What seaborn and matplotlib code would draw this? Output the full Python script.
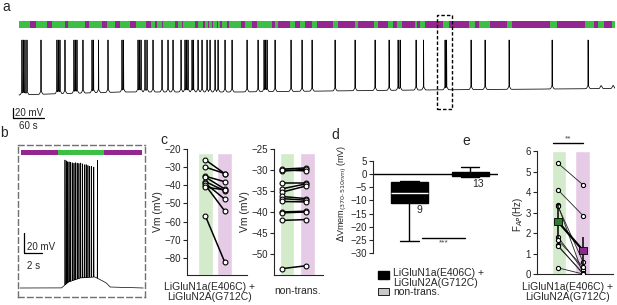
import numpy as np
import pandas as pd
import matplotlib
matplotlib.use("Agg")
import matplotlib.pyplot as plt
from matplotlib.patches import Rectangle
import seaborn as sns

# ---- data -------------------------------------------------------------
# a: long recording (s) - 370 nm (purple) light periods, spike times, sub-threshold events
a_purple_on = [21.3, 54.2, 89.0, 127.7, 160.6, 185.8, 214.8, 245.7, 263.2, 276.7,
               301.9, 315.4, 340.6, 356.0, 365.7, 373.5, 383.1, 388.9, 402.5, 429.6,
               450.9, 489.6, 501.2, 534.1, 553.4, 576.6, 617.3, 656.0, 694.7, 723.7,
               741.1, 770.1, 785.7, 832.0, 882.4, 911.4, 954.0, 1041.1, 1112.6, 1132.0]
a_purple_off = [32.9, 63.9, 94.8, 135.5, 170.3, 195.4, 226.4, 255.4, 267.0, 278.6,
                307.7, 317.3, 346.4, 359.9, 367.7, 375.4, 385.1, 392.8, 406.4, 437.3,
                460.5, 495.4, 524.4, 543.7, 566.9, 607.6, 650.2, 687.0, 714.0, 731.4,
                766.3, 775.9, 820.4, 870.8, 890.2, 944.3, 1027.5, 1095.2, 1120.4, 1147.5]
a_spikes = [5.8, 8.7, 11.6, 15.5, 42.6, 73.5, 76.4, 79.3, 89.0, 106.4, 109.3, 112.2,
            123.8, 141.3, 144.2, 153.9, 172.2, 199.3, 202.2, 230.3, 233.2, 236.1,
            243.8, 247.7, 259.3, 276.7, 288.3, 298.0, 313.5, 321.2, 324.1, 327.0,
            334.8, 337.7, 346.4, 354.1, 363.8, 369.6, 379.3, 385.1, 398.6, 412.2,
            441.2, 462.5, 474.1, 477.0, 479.9, 495.4, 526.3, 547.6, 567.0, 611.5,
            650.2, 688.9, 716.0, 733.4, 737.3, 768.2, 782.7, 824.3, 827.2, 874.6,
            901.7, 948.2, 1031.4, 1101.0]
a_sub_events = [1126.2, 1149.4]
a_base_t = [0, 60, 200, 420, 780, 1153]
a_base_mv = [-66, -64, -60, -60, -56, -53]
a_end = 1153
a_peak = 44

# b: zoom on one light cycle (s, mV)
b_green_on, b_green_off, b_end = 4.2, 9.3, 13.7
b_spikes = [5.0, 5.15, 5.3, 5.45, 5.6, 5.8, 6.0, 6.15, 6.35, 6.55, 6.75, 6.95,
            7.15, 7.35, 7.55, 7.75, 7.95, 8.2, 8.6]
b_peaks = [60, 58, 56, 55, 54, 53, 52, 52, 51, 50, 50, 49, 48, 48, 47, 46, 46, 45, 53]
b_hump_t = [0, 4.6, 5.4, 6.7, 8.3, 9.0, 9.6, 10.0, 13.7]
b_hump_mv = [0, 0, 6, 10, 11, 8, 5, 1, 0]
b_base = -65

# c: Vm (mV) under 510 nm (green) and 370 nm (purple)
c_tr_green = [-26, -30, -35, -35.5, -38, -39, -40, -41, -57]
c_tr_purple = [-33.5, -33.5, -38, -42, -43, -47.5, -54, -42.5, -82]
c_nt_green = [-29.8, -30.3, -30.0, -33.0, -34.5, -35.3, -36.3, -36.8, -37.5,
              -40.0, -40.2, -42.0, -53.5]
c_nt_purple = [-29.5, -29.8, -30.2, -33.0, -33.3, -33.8, -36.8, -37.2, -37.6,
               -39.8, -40.0, -41.8, -52.8]

# d: delta Vm (370-510 nm)
d_trans = [-25.5, -11.5, -11.0, -9.0, -7.2, -5.0, -3.0, -2.9, -2.7]
d_nontrans = [-1.2, -0.9, -0.8, -0.7, -0.3, 0.0, 0.2, 0.4, 0.6, 1.0, 1.2, 1.6, 2.7]

# e: AP frequency (Hz)
e_green = [5.4, 4.1, 3.35, 3.3, 1.8, 1.65, 1.4, 1.35, 0.3]
e_purple = [4.35, 2.85, 0.0, 0.6, 0.2, 0.35, 0.0, 0.05, 0.0]
e_mean = [2.55, 1.15]
e_err = [0.8, 0.67]

GREEN = "#3cbf45"
PURPLE = "#93278f"
LGREEN = "#d3eacb"
LPURPLE = "#e6cbe6"
TR_LABEL = "LiGluN1a(E406C) +\nLiGluN2A(G712C)"

sns.set_theme(style="ticks")
plt.rcParams["font.family"] = ["Liberation Sans", "DejaVu Sans"]
plt.rcParams.update({
    "font.size": 7, "axes.linewidth": 0.8,
    "xtick.major.size": 3, "ytick.major.size": 3,
    "xtick.major.width": 0.8, "ytick.major.width": 0.8,
    "xtick.labelsize": 7, "ytick.labelsize": 7,
    "xtick.major.pad": 1.5, "ytick.major.pad": 1.5,
})

W, H = 617, 305
fig = plt.figure(figsize=(W / 100, H / 100), dpi=100)


def px_axes(x0, y0, x1, y1):
    return fig.add_axes([x0 / W, 1 - y1 / H, (x1 - x0) / W, (y1 - y0) / H])


def ftext(x, y, s, **kw):
    fig.text(x / W, 1 - y / H, s, **kw)


def frect(x0, y0, x1, y1, **kw):
    fig.add_artist(Rectangle((x0 / W, 1 - y1 / H), (x1 - x0) / W, (y1 - y0) / H,
                             transform=fig.transFigure, **kw))


# ---- a ----------------------------------------------------------------
ax = px_axes(12, 14, 615, 122)
t = np.arange(0, a_end, 0.1)
base = np.interp(t, a_base_t, a_base_mv)
hump = np.zeros_like(t)
for ts in a_spikes + a_sub_events:
    hump = np.maximum(hump, 6 * np.exp(-0.5 * ((t - ts) / 1.6) ** 2))
spk = np.zeros_like(t)
for ts in a_spikes:
    spk = np.maximum(spk, np.exp(-0.5 * ((t - ts) / 0.15) ** 2))
v = base + hump + spk * (a_peak - base - hump)
sns.lineplot(x=t, y=v, ax=ax, color="black", lw=0.55, estimator=None)
ax.broken_barh([(0, a_end)], (68.6, 13.4), color=GREEN, lw=0)
ax.broken_barh([(s, e - s) for s, e in zip(a_purple_on, a_purple_off)],
               (68.6, 13.4), color=PURPLE, lw=0)
ax.add_patch(Rectangle((808.8, -94), 29.1, 188, fill=False, ls=(0, (2.5, 1.5)),
                       lw=1, ec="black", clip_on=False))
# scale bars 20 mV / 60 s
ax.plot([-11.6, -11.6, 48.4], [-92, -112, -112], color="black", lw=0.9, clip_on=False)
ax.text(-7.5, -101, "20 mV", fontsize=7, va="center", ha="left")
ax.text(18, -128, "60 s", fontsize=7, va="center", ha="center", clip_on=False)
ax.set_xlim(-13.5, a_end)
ax.set_ylim(-120, 96)
ax.axis("off")

# ---- b ----------------------------------------------------------------
ax = px_axes(18, 145, 145, 297)
tb = np.arange(0, b_end, 0.002)
vb = b_base + np.interp(tb, b_hump_t, b_hump_mv)
sb = np.zeros_like(tb)
for ts, pk in zip(b_spikes, b_peaks):
    g = np.exp(-0.5 * ((tb - ts) / 0.006) ** 2)
    sb = np.maximum(sb, g * (pk - b_base))
vb = vb + sb
sns.lineplot(x=tb, y=vb, ax=ax, color="black", lw=0.5, estimator=None)
ax.broken_barh([(0.1, b_green_on - 0.1), (b_green_off, b_end - 0.1 - b_green_off)],
               (68, 5), color=PURPLE, lw=0)
ax.broken_barh([(b_green_on, b_green_off - b_green_on)], (68, 5), color=GREEN, lw=0)
ax.plot([0.44, 0.44, 2.44], [-10, -30, -30], color="black", lw=0.9)
ax.text(0.8, -24, "20 mV", fontsize=7, va="center", ha="left")
ax.text(0.75, -43, "2 s", fontsize=7, va="center", ha="left")
ax.set_xlim(-0.22, 13.89)
ax.set_ylim(-74, 78)
ax.set_xticks([])
ax.set_yticks([])
for sp in ax.spines.values():
    sp.set_linestyle((0, (4, 2.5)))
    sp.set_color("#707070")
    sp.set_linewidth(1)


# ---- c ----------------------------------------------------------------
def pair_plot(ax, g, p, lw, ms, color):
    df = pd.DataFrame({
        "cell": list(range(len(g))) * 2,
        "cond": [0] * len(g) + [1] * len(p),
        "vm": list(g) + list(p),
    })
    sns.lineplot(data=df, x="cond", y="vm", units="cell", estimator=None, ax=ax,
                 color=color, lw=lw, marker="o", ms=ms, mfc="white", mec="black",
                 mew=0.8, zorder=3)


ax = px_axes(187, 149, 247, 275)
ax.bar([0, 1], [67.4, 67.4], bottom=-89.4, width=0.78, color=[LGREEN, LPURPLE], zorder=0)
pair_plot(ax, c_tr_green, c_tr_purple, 1.1, 3.5, "black")
ax.set_xlim(-0.97, 2.18)
ax.set_ylim(-89.4, -20)
ax.set_yticks(range(-20, -81, -10))
ax.set_xticks([])
ax.set_xlabel("")
ax.set_ylabel("Vm (mV)", fontsize=7.5, labelpad=1)
sns.despine(ax=ax)

ax = px_axes(274, 149, 323, 275)
ax.bar([0.225, 1.065], [29.05, 29.05], bottom=-55, width=[0.57, 0.61],
       color=[LGREEN, LPURPLE], zorder=0)
pair_plot(ax, c_nt_green, c_nt_purple, 1.1, 3.5, "black")
ax.set_xlim(-0.31, 1.69)
ax.set_ylim(-55, -25)
ax.set_yticks(range(-25, -51, -5))
ax.set_xticks([])
ax.set_xlabel("")
ax.set_ylabel("Vm (mV)", fontsize=7.5, labelpad=1)
sns.despine(ax=ax)

ftext(209, 292, TR_LABEL, ha="center", va="center", fontsize=7.5, linespacing=1.1)
ftext(298, 291, "non-trans.", ha="center", va="center", fontsize=7.5)

# ---- d ----------------------------------------------------------------
ax = px_axes(373, 161, 498, 253)
df_d = pd.DataFrame({
    "group": ["tr"] * len(d_trans) + ["nt"] * len(d_nontrans),
    "dv": d_trans + d_nontrans,
})
ax.axhline(0, color="black", lw=1, zorder=1)
sns.boxplot(data=df_d, x="group", y="dv", order=["tr", "nt"], ax=ax, width=0.61,
            whis=(0, 100), color="black", linecolor="black", linewidth=1,
            medianprops=dict(color="white", lw=1), showfliers=False, zorder=2)
# the non-transfected box is too thin to show its median
for ln in ax.lines:
    yd = np.asarray(ln.get_ydata(), dtype=float)
    if ln.get_color() == "white" and np.all(np.abs(yd) < 1):
        ln.set_color("black")
ax.plot([0.21, 0.92], [-24.3, -24.3], color="black", lw=1)
ax.text(0.56, -26.3, "***", ha="center", va="center", fontsize=6, color="#444444")
ax.text(0.17, -13.7, "9", ha="center", va="center", fontsize=7.5)
ax.text(1.13, -3.8, "13", ha="center", va="center", fontsize=7.5)
ax.set_xlim(-0.6, 1.46)
ax.set_ylim(-30, 5)
ax.set_yticks(range(5, -31, -5))
ax.set_xticks([])
ax.set_xlabel("")
ax.set_ylabel("")
sns.despine(ax=ax, bottom=True)
ftext(342, 193, r"$\Delta$Vmem$_{(370\text{-}510nm)}$ (mV)", rotation=90,
      ha="center", va="center", fontsize=6.5)

frect(378, 271, 389, 279, color="black")
frect(378, 288, 389, 295, facecolor="#c8c8c8", edgecolor="black", lw=0.6)
ftext(393, 278, TR_LABEL, ha="left", va="center", fontsize=7.5, linespacing=1.1)
ftext(393, 292, "non-trans.", ha="left", va="center", fontsize=7.5)

# ---- e ----------------------------------------------------------------
ax = px_axes(537, 151, 613, 274)
ax.bar([0.04, 0.98], [6, 6], bottom=0, width=[0.56, 0.6], color=[LGREEN, LPURPLE],
       zorder=0)
pair_plot(ax, e_green, e_purple, 0.6, 3, "#222222")
ax.errorbar([0, 1], e_mean, yerr=e_err, fmt="none", ecolor="black", elinewidth=1.1,
            capsize=0, zorder=4)
sns.lineplot(x=[0, 1], y=e_mean, ax=ax, color="black", lw=1.6, zorder=4)
sns.scatterplot(x=[0, 1], y=e_mean, hue=["g", "p"], palette=["#2f7d2f", "#8a2a8a"],
                marker="s", s=28, edgecolor="black", linewidth=0.6, legend=False,
                ax=ax, zorder=5)
ax.plot([-0.2, 1.0], [6.39, 6.39], color="black", lw=1, clip_on=False)
ax.text(0.4, 6.6, "**", ha="center", va="center", fontsize=6, color="#444444",
        clip_on=False)
ax.set_xlim(-0.84, 2.2)
ax.set_ylim(0, 6)
ax.set_yticks(range(0, 7))
ax.set_xticks([])
ax.set_xlabel("")
ax.set_ylabel("")
sns.despine(ax=ax)
ftext(518, 215, r"F$_{AP}$(Hz)", rotation=90, ha="center", va="center", fontsize=7)
ftext(567, 292, TR_LABEL, ha="center", va="center", fontsize=7.5, linespacing=1.1)

# ---- panel letters ----------------------------------------------------
for x, y, s in [(6, 7, "a"), (4, 133, "b"), (164, 140, "c"), (335, 135, "d"),
                (466, 141, "e")]:
    ftext(x, y, s, ha="center", va="center", fontsize=10)

fig.savefig("out.png", dpi=100)
